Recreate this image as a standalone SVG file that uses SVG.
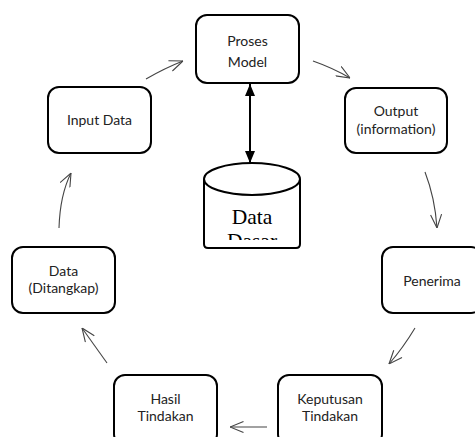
<svg xmlns="http://www.w3.org/2000/svg" width="475" height="437" viewBox="0 0 475 437">
<style>
.box{fill:#fff;stroke:#000;stroke-width:2}
.lbl{font-family:Lato,"Open Sans",sans-serif;font-size:14px;fill:#222;text-anchor:middle}
.flow{fill:none;stroke:#444;stroke-width:1.1}
.db{font-family:"Liberation Serif","Times New Roman",serif;font-size:21.5px;fill:#000;text-anchor:middle}
</style>
<defs>
<marker id="open" viewBox="0 0 14 12" refX="14" refY="6" markerWidth="14" markerHeight="12" markerUnits="userSpaceOnUse" orient="auto">
<path d="M0.5,0.5 L14,6 L0.5,11.5" fill="none" stroke="#444" stroke-width="1.1"/>
</marker>
<clipPath id="cylclip"><rect x="200" y="180" width="110" height="60"/></clipPath>
</defs>
<rect width="475" height="437" fill="#fff"/>
<g id="connectors">
<path class="flow" d="M146,79 Q165,68 183,61" marker-end="url(#open)"/>
<path class="flow" d="M313,61 Q333,68 350,78" marker-end="url(#open)"/>
<path class="flow" d="M425,172 Q435,198 437,228" marker-end="url(#open)"/>
<path class="flow" d="M415,328 Q403,348 389,364" marker-end="url(#open)"/>
<path class="flow" d="M267,427 L230,427" marker-end="url(#open)"/>
<path class="flow" d="M107,363 L82,328" marker-end="url(#open)"/>
<path class="flow" d="M59,228 Q60,195 71,173" marker-end="url(#open)"/>
<line x1="250" y1="84" x2="250" y2="163" stroke="#000" stroke-width="2"/>
<path d="M245,96 L255,96 L250,84 Z" fill="#000"/>
<path d="M245,151 L255,151 L250,163 Z" fill="#000"/>
</g>
<g id="proses-model">
<rect class="box" x="196" y="15" width="103" height="68" rx="11"/>
<text class="lbl" x="247.5" y="46">Proses</text>
<text class="lbl" x="247.5" y="67">Model</text>
</g>
<g id="output">
<rect class="box" x="345" y="88" width="102" height="65" rx="11"/>
<text class="lbl" x="396" y="116">Output</text>
<text class="lbl" x="396" y="133.5">(information)</text>
</g>
<g id="penerima">
<rect class="box" x="382" y="247" width="100" height="66" rx="11"/>
<text class="lbl" x="432" y="286">Penerima</text>
</g>
<g id="keputusan-tindakan">
<rect class="box" x="278" y="375" width="104" height="70" rx="11"/>
<text class="lbl" x="330" y="404">Keputusan</text>
<text class="lbl" x="330" y="421">Tindakan</text>
</g>
<g id="hasil-tindakan">
<rect class="box" x="114" y="375" width="103" height="70" rx="11"/>
<text class="lbl" x="165.5" y="404">Hasil</text>
<text class="lbl" x="165.5" y="421">Tindakan</text>
</g>
<g id="data-ditangkap">
<rect class="box" x="12" y="247" width="103" height="66" rx="11"/>
<text class="lbl" x="63.5" y="276">Data</text>
<text class="lbl" x="63.5" y="292.5">(Ditangkap)</text>
</g>
<g id="input-data">
<rect class="box" x="48" y="87" width="103" height="66" rx="11"/>
<text class="lbl" x="99.5" y="124.5">Input Data</text>
</g>
<g id="data-dasar">
<path d="M204,179 L204,244 Q204,248 208,248 L296,248 Q300,248 300,244 L300,179" fill="#fff" stroke="#000" stroke-width="2"/>
<ellipse cx="252" cy="179" rx="48" ry="16" fill="#fff" stroke="#000" stroke-width="2"/>
<g clip-path="url(#cylclip)">
<text class="db" x="252" y="224">Data</text>
<text class="db" x="252" y="248">Dasar</text>
</g>
</g>
</svg>
